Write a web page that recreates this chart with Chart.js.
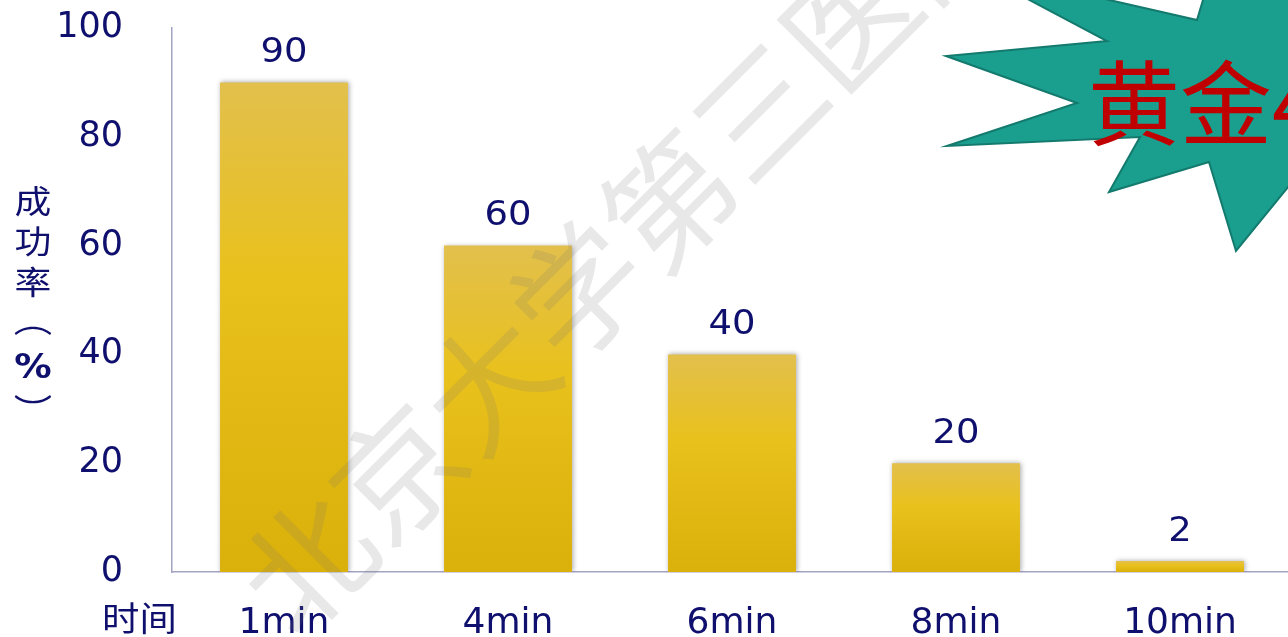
<!DOCTYPE html>
<html>
<head>
<meta charset="utf-8">
<script src="https://cdn.jsdelivr.net/npm/chart.js@4/dist/chart.umd.min.js"></script>
<style>
  html, body { margin: 0; padding: 0; background: #fff; overflow: hidden; }
  #wrap { width: 1300px; height: 637px; }
</style>
</head>
<body>
<div id="wrap"><canvas id="rateChart" width="1300" height="637"></canvas></div>
<script>
// =============================
// Data
// =============================
const categories = ["1min", "4min", "6min", "8min", "10min"];
const successRate = [90, 60, 40, 20, 2];
const yTicks = [0, 20, 40, 60, 80, 100];

const NAVY = "#0f0f6e";
const AXIS = "#a3a3c4";

// gold gradient for each bar, top lighter, bottom darker
function barFill(context) {
  const chart = context.chart;
  if (!chart.chartArea) return "#e6bd1c";
  const y = chart.scales.y;
  const top = y.getPixelForValue(context.raw);
  const bot = y.getPixelForValue(0);
  if (bot - top < 1) return "#e6bd1c";
  const g = chart.ctx.createLinearGradient(0, top, 0, bot);
  g.addColorStop(0, "#e2c04c");
  g.addColorStop(0.4, "#e9c11c");
  g.addColorStop(1, "#dab00a");
  return g;
}

// text a bit wider than the font, like the stretched slide
function wideText(c, text, x, y, sx) {
  c.save();
  c.translate(x, y);
  c.scale(sx, 1);
  c.fillText(text, 0, 0);
  c.restore();
}

// =============================
// Plugins
// =============================
const barShadow = {
  id: "barShadow",
  beforeDatasetsDraw(chart) {
    const c = chart.ctx;
    c.save();
    c.shadowColor = "rgba(0,0,0,0.35)";
    c.shadowBlur = 5;
    c.shadowOffsetX = 1;
  },
  afterDatasetsDraw(chart) {
    chart.ctx.restore();
  },
};

const valueLabels = {
  id: "valueLabels",
  afterDatasetsDraw(chart) {
    const c = chart.ctx;
    const meta = chart.getDatasetMeta(0);
    c.save();
    c.font = "33px 'DejaVu Sans'";
    c.fillStyle = NAVY;
    c.textAlign = "center";
    c.textBaseline = "middle";
    meta.data.forEach((bar, i) => {
      wideText(c, String(successRate[i]), bar.x, bar.y - 29, 1.12);
    });
    c.restore();
  },
};

const decorations = {
  id: "decorations",
  afterDraw(chart) {
    const c = chart.ctx;

    // y axis title, stacked vertically
    c.save();
    c.fillStyle = NAVY;
    c.textAlign = "center";
    c.textBaseline = "middle";
    c.font = "32px 'Noto Sans CJK SC'";
    wideText(c, "成", 33, 201, 1.15);
    wideText(c, "功", 33, 241, 1.15);
    wideText(c, "率", 33, 282, 1.15);
    wideText(c, "︵", 33, 320, 1.2);
    c.font = "bold 34px 'DejaVu Sans'";
    wideText(c, "%", 33, 369, 1.1);
    c.font = "32px 'Noto Sans CJK SC'";
    wideText(c, "︶", 33, 410, 1.2);

    // x axis caption
    c.font = "34px 'Noto Sans CJK SC'";
    c.textAlign = "left";
    wideText(c, "时间", 102, 618, 1.1);
    c.restore();

    // watermark
    c.save();
    c.translate(307, 563);
    c.rotate(-Math.PI / 4);
    c.font = "128px 'Noto Sans CJK SC'";
    c.fillStyle = "rgba(120,120,120,0.17)";
    c.textAlign = "left";
    c.textBaseline = "middle";
    c.fillText("北京大学第三医院", -64, 0);
    c.restore();

    // star burst
    c.save();
    c.beginPath();
    const pts = [
      [969, -32], [1107, 41], [946, 56], [1077, 103], [947, 146],
      [1140, 137], [1109, 192], [1209, 162], [1236, 251], [1310, 160],
      [1310, -60], [1215, -40], [1197, 20],
    ];
    pts.forEach((p, i) => (i ? c.lineTo(p[0], p[1]) : c.moveTo(p[0], p[1])));
    c.closePath();
    c.fillStyle = "#1a9e8e";
    c.fill();
    c.lineWidth = 2;
    c.strokeStyle = "#137a6d";
    c.stroke();

    c.font = "92px 'Noto Sans CJK SC'";
    c.fillStyle = "#c00000";
    c.textAlign = "left";
    c.textBaseline = "middle";
    c.fillText("黄金4分钟", 1088, 103);
    c.restore();
  },
};

// =============================
// Chart
// =============================
const ctx = document.getElementById("rateChart").getContext("2d");
new Chart(ctx, {
  type: "bar",
  data: {
    labels: categories,
    datasets: [
      {
        label: "成功率（%）",
        data: successRate,
        backgroundColor: barFill,
        borderWidth: 0,
        barPercentage: 0.571,
        categoryPercentage: 1,
      },
    ],
  },
  options: {
    responsive: false,
    animation: false,
    devicePixelRatio: 1,
    layout: { padding: { top: 28, right: 8, bottom: 0, left: 0 } },
    plugins: {
      legend: { display: false },
      tooltip: { enabled: false },
    },
    scales: {
      x: {
        grid: { display: false },
        border: { display: true, color: AXIS, width: 1.5 },
        ticks: {
          color: NAVY,
          font: { family: "DejaVu Sans", size: 36 },
          padding: 22,
          autoSkip: false,
          maxRotation: 0,
        },
        afterFit(scale) {
          scale.height = 65;
          scale.paddingTop = 0;
        },
      },
      y: {
        min: yTicks[0],
        max: yTicks[yTicks.length - 1],
        grid: { display: false },
        border: { display: true, color: AXIS, width: 1.5 },
        ticks: {
          stepSize: yTicks[1] - yTicks[0],
          color: NAVY,
          font: { family: "DejaVu Sans", size: 35 },
          padding: 41,
        },
        afterFit(scale) {
          scale.width = 172;
          scale.paddingTop = 0;
          scale.paddingBottom = 0;
        },
      },
    },
  },
  plugins: [barShadow, valueLabels, decorations],
});
</script>
</body>
</html>
